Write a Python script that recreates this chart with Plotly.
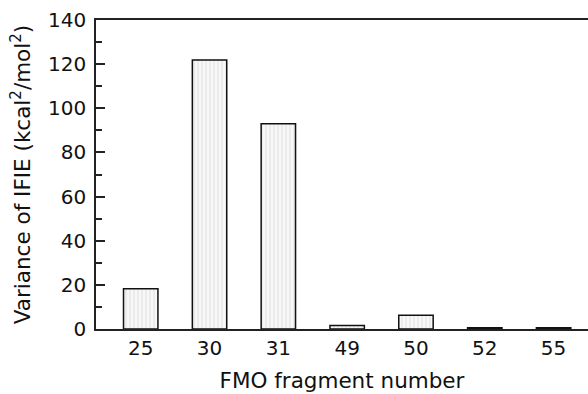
import plotly.graph_objects as go

categories = ["25", "30", "31", "49", "50", "52", "55"]
values = [18.2, 121.9, 93.0, 1.6, 6.2, 0.6, 0.6]
y_ticks = [0, 20, 40, 60, 80, 100, 120, 140]

fig = go.Figure()
fig.add_trace(go.Bar(
    x=list(range(len(categories))),
    y=values,
    width=0.5,
    marker=dict(
        color="white",
        line=dict(color="#111111", width=1.5),
        pattern=dict(shape="|", fgcolor="#d4d4d4", bgcolor="#f8f8f8", size=4, solidity=0.35),
    ),
))

font = dict(family="DejaVu Sans, sans-serif", size=20, color="#111111")
title_font = dict(family="DejaVu Sans, sans-serif", size=21.5, color="#111111")
fig.update_layout(
    width=588, height=394,
    margin=dict(l=96, r=0, t=20, b=65),
    plot_bgcolor="white", paper_bgcolor="white",
    showlegend=False,
    font=font,
    xaxis=dict(
        range=[-0.65, 6.5],
        tickmode="array",
        tickvals=list(range(len(categories))),
        ticktext=categories,
        ticks="",
        tickfont=font,
        showline=True, linecolor="#222222", linewidth=1.5, mirror=True,
        showgrid=False, zeroline=False,
        title=dict(text="FMO fragment number", font=title_font, standoff=14),
    ),
    yaxis=dict(
        range=[0, 140],
        tickmode="array",
        tickvals=y_ticks,
        tickfont=font,
        ticklabelstandoff=4,
        ticks="inside", ticklen=9, tickwidth=1.5, tickcolor="#222222",
        minor=dict(ticks="inside", ticklen=6, tickwidth=1.5, tickcolor="#222222", dtick=10, showgrid=False),
        showline=True, linecolor="#222222", linewidth=1.5,
        showgrid=False, zeroline=False,
        title=dict(text="Variance of IFIE (kcal<sup>2</sup>/mol<sup>2</sup>)", font=title_font, standoff=12),
    ),
)

fig.write_html("out.html")
